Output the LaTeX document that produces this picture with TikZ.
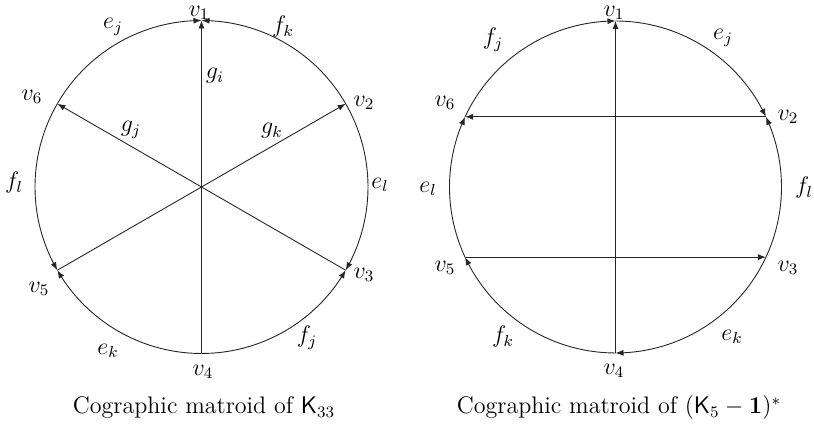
\documentclass[tikz,border=0pt]{standalone}
\usetikzlibrary{arrows.meta,bending,calc}
\begin{document}
\begin{tikzpicture}[x=0.5pt,y=0.5pt,
  edge/.style={line width=0.45pt,draw=black!85},
  arr/.style={edge,-{Latex[length=4pt,width=3pt,flex]}},
  lab/.style={inner sep=0pt,font=\large},
  captext/.style={inner sep=0pt,font=\large}]
\useasboundingbox (0,0) rectangle (814,431);
% ---------- left: K33 ----------
\coordinate (L) at (201.5,244);
\foreach \n/\a in {1/90,2/30,3/-30,4/270,5/210,6/150}
  \coordinate (Lv\n) at ($(L)+(\a:166.5)$);
\draw[arr] (Lv6) arc[start angle=150,end angle=90,radius=83.25pt];
\draw[arr] (Lv2) arc[start angle=30,end angle=90,radius=83.25pt];
\draw[arr] (Lv2) arc[start angle=30,end angle=-30,radius=83.25pt];
\draw[arr] (Lv4) arc[start angle=270,end angle=330,radius=83.25pt];
\draw[arr] (Lv4) arc[start angle=270,end angle=210,radius=83.25pt];
\draw[arr] (Lv6) arc[start angle=150,end angle=210,radius=83.25pt];
\draw[arr] (Lv4) -- (Lv1);
\draw[arr] (Lv5) -- (Lv2);
\draw[arr] (Lv3) -- (Lv6);
\node[lab] (Llv1) at (199,418) {$v_1$};
\node[lab] (Llv2) at (364,328) {$v_2$};
\node[lab] (Llv3) at (364,156) {$v_3$};
\node[lab] (Llv4) at (203,59) {$v_4$};
\node[lab] (Llv5) at (39,142) {$v_5$};
\node[lab] (Llv6) at (32,334) {$v_6$};
\node[lab] (Lej) at (113,404) {$e_j$};
\node[lab] (Lfk) at (283,404) {$f_k$};
\node[lab] (Lgi) at (215,355) {$g_i$};
\node[lab] (Lgj) at (131,301) {$g_j$};
\node[lab] (Lgk) at (272,300) {$g_k$};
\node[lab] (Lfl) at (14,248) {$f_l$};
\node[lab] (Lel) at (380,246) {$e_l$};
\node[lab] (Lek) at (108,80) {$e_k$};
\node[lab] (Lfj) at (307,93) {$f_j$};
\node[captext] (Lcap) at (204,23) {Cographic matroid of $\mathsf{K}_{33}$};
% ---------- right: (K5-1)* ----------
\coordinate (R) at (615.5,244);
\foreach \n/\a in {1/90,2/25,3/-25,4/270,5/205,6/155}
  \coordinate (Rv\n) at ($(R)+(\a:166)$);
\draw[arr] (Rv6) arc[start angle=155,end angle=90,radius=83pt];
\draw[arr] (Rv1) arc[start angle=90,end angle=25,radius=83pt];
\draw[arr] (Rv3) arc[start angle=-25,end angle=25,radius=83pt];
\draw[arr] (Rv5) arc[start angle=205,end angle=155,radius=83pt];
\draw[arr] (Rv4) arc[start angle=270,end angle=205,radius=83pt];
\draw[arr] (Rv3) arc[start angle=335,end angle=270,radius=83pt];
\draw[arr] (Rv4) -- (Rv1);
\draw[arr] (Rv2) -- (Rv6);
\draw[arr] (Rv5) -- (Rv3);
\node[lab] (Rlv1) at (614,418) {$v_1$};
\node[lab] (Rlv2) at (788,314) {$v_2$};
\node[lab] (Rlv3) at (788,163) {$v_3$};
\node[lab] (Rlv4) at (614,60) {$v_4$};
\node[lab] (Rlv5) at (445,163) {$v_5$};
\node[lab] (Rlv6) at (445,328) {$v_6$};
\node[lab] (Rfj) at (493,391) {$f_j$};
\node[lab] (Rej) at (723,393) {$e_j$};
\node[lab] (Rel) at (428,242) {$e_l$};
\node[lab] (Rfl) at (804,243) {$f_l$};
\node[lab] (Rfk) at (503,94) {$f_k$};
\node[lab] (Rek) at (732,94) {$e_k$};
\node[captext] (Rcap) at (619,23) {Cographic matroid of $(\mathsf{K}_5-\mathbf{1})^*$};
\end{tikzpicture}
\end{document}
